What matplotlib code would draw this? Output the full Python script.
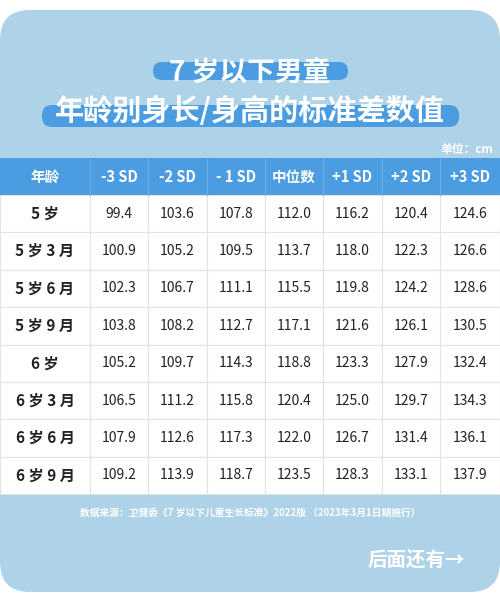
import matplotlib.pyplot as plt
from matplotlib.patches import FancyBboxPatch, Rectangle

plt.rcParams['font.family'] = ['Noto Sans CJK SC', 'DejaVu Sans']

title1 = "7 岁以下男童"
title2 = "年龄别身长/身高的标准差数值"
unit = "单位：cm"
headers = ["年龄", "-3 SD", "-2 SD", "- 1 SD", "中位数", "+1 SD", "+2 SD", "+3 SD"]
ages = ["5 岁", "5 岁 3 月", "5 岁 6 月", "5 岁 9 月", "6 岁", "6 岁 3 月", "6 岁 6 月", "6 岁 9 月"]
sd_m3 = ["99.4", "100.9", "102.3", "103.8", "105.2", "106.5", "107.9", "109.2"]
sd_m2 = ["103.6", "105.2", "106.7", "108.2", "109.7", "111.2", "112.6", "113.9"]
sd_m1 = ["107.8", "109.5", "111.1", "112.7", "114.3", "115.8", "117.3", "118.7"]
median = ["112.0", "113.7", "115.5", "117.1", "118.8", "120.4", "122.0", "123.5"]
sd_p1 = ["116.2", "118.0", "119.8", "121.6", "123.3", "125.0", "126.7", "128.3"]
sd_p2 = ["120.4", "122.3", "124.2", "126.1", "127.9", "129.7", "131.4", "133.1"]
sd_p3 = ["124.6", "126.6", "128.6", "130.5", "132.4", "134.3", "136.1", "137.9"]
source = "数据来源：卫健委《7 岁以下儿童生长标准》2022版 （2023年3月1日期施行）"
more = "后面还有→"

columns = [ages, sd_m3, sd_m2, sd_m1, median, sd_p1, sd_p2, sd_p3]
col_edges = [0, 90, 148, 207, 265, 323, 382, 440, 500]
header_top, header_bot = 158, 195
row_h = (494 - header_bot) / len(ages)

fig = plt.figure(figsize=(5, 5.99), dpi=100)
ax = fig.add_axes([0, 0, 1, 1])
ax.set_xlim(0, 500)
ax.set_ylim(599, 0)
ax.axis('off')

card_color = '#aed2e7'
blue = '#4b9ce0'
ax.add_patch(FancyBboxPatch((0, 10), 500, 582, boxstyle="round,pad=0,rounding_size=30",
                            fc=card_color, ec='none'))

# title pills
ax.add_patch(FancyBboxPatch((153, 62), 195, 18, boxstyle="round,pad=0,rounding_size=9",
                            fc=blue, ec='none'))
ax.add_patch(FancyBboxPatch((42, 105), 417, 22, boxstyle="round,pad=0,rounding_size=10",
                            fc=blue, ec='none'))
ax.text(250, 72, title1, ha='center', va='center', fontsize=20, fontweight='bold', color='white')
ax.text(250, 111, title2, ha='center', va='center', fontsize=21, fontweight='bold', color='white')
ax.text(493, 150, unit, ha='right', va='center', fontsize=8.5, fontweight='bold', color='white')

# header
ax.add_patch(Rectangle((0, header_top), 500, header_bot - header_top, fc=blue, ec='none'))
for i, h in enumerate(headers):
    cx = (col_edges[i] + col_edges[i + 1]) / 2
    ax.text(cx, (header_top + header_bot) / 2, h, ha='center', va='center',
            fontsize=10.5, fontweight='bold', color='white')
    if i > 0:
        ax.plot([col_edges[i]] * 2, [header_top, header_bot], color='#6aaee6', lw=0.8)

# body
for r in range(len(ages)):
    y0 = header_bot + r * row_h
    for c, col in enumerate(columns):
        x0 = col_edges[c]
        ax.add_patch(Rectangle((x0, y0), col_edges[c + 1] - x0, row_h, fc='white',
                               ec='#e3e3e3', lw=0.8))
        ax.text((x0 + col_edges[c + 1]) / 2, y0 + row_h / 2, col[r], ha='center', va='center',
                fontsize=11 if c == 0 else 10, fontweight='bold' if c == 0 else 'normal',
                color='#222222')

ax.text(250, 513, source, ha='center', va='center', fontsize=7, color='white', fontweight='bold')
ax.text(465, 560, more, ha='right', va='center', fontsize=14, fontweight='bold', color='white')

fig.savefig('out.png', dpi=100)
